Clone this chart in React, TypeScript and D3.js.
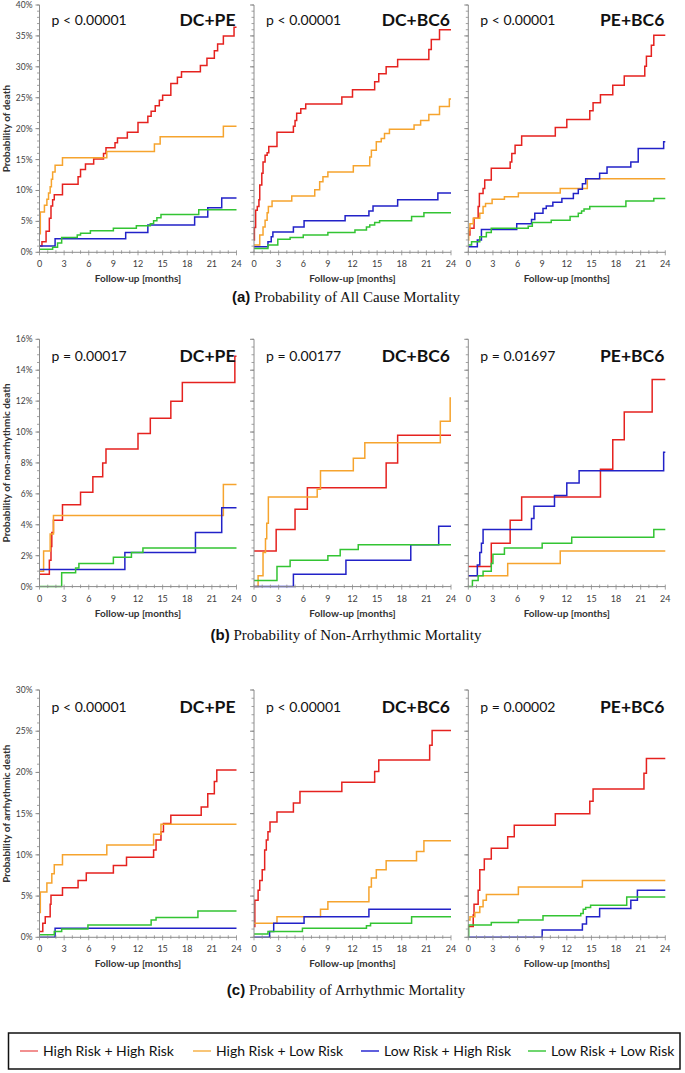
import React from "react";
import * as d3 from "d3";

type Pt = [number, number];

const monthTicks = [0, 3, 6, 9, 12, 15, 18, 21, 24];
const groupTitles = ["DC+PE", "DC+BC6", "PE+BC6"];
const seriesNames = ["High Risk + High Risk", "High Risk + Low Risk", "Low Risk + High Risk", "Low Risk + Low Risk"];
const seriesColors = ["#e5221f", "#f6a42e", "#2222c8", "#33c433"];
const legendColors = ["#ee6b6b", "#f6b24a", "#2a2ad2", "#3fc83f"];

const rowYTitles = ["Probability of death", "Probability of non-arrhythmic death", "Probability of arrhythmic death"];
const rowCaptionTags = ["(a)", "(b)", "(c)"];
const rowCaptions = ["Probability of All Cause Mortality", "Probability of Non-Arrhythmic Mortality", "Probability of Arrhythmic Mortality"];
const rowYMax = [40, 16, 30];
const rowYMajor = [5, 2, 5];
const rowYMinor = [1, 0.5, 1];

const pValuesA = ["p < 0.00001", "p < 0.00001", "p < 0.00001"];
const pValuesB = ["p = 0.00017", "p = 0.00177", "p = 0.01697"];
const pValuesC = ["p < 0.00001", "p < 0.00001", "p = 0.00002"];

// ---- (a) All cause mortality ----
const a1Red: Pt[] = [[0,1.0],[0.3,1.7],[0.8,3.4],[1.2,5.5],[1.4,7.5],[1.6,8.5],[1.8,9.3],[2.8,11.0],[4.7,12.2],[5.0,13.4],[5.6,14.3],[6.6,15.1],[7.8,16.0],[8.1,16.9],[9.2,17.7],[9.5,18.5],[10.7,19.4],[12.0,21.0],[13.2,22.0],[13.6,22.8],[14.1,23.7],[14.6,24.6],[15.0,25.4],[16.0,27.3],[16.8,28.3],[17.3,29.2],[19.6,30.2],[20.4,31.4],[21.3,32.6],[21.7,33.7],[22.4,35.0],[23.7,36.4]];
const a1Orange: Pt[] = [[0,3.0],[0.1,6.5],[0.6,7.6],[0.9,8.6],[1.1,9.6],[1.3,10.6],[1.45,11.8],[1.6,13.0],[1.9,14.1],[2.8,15.3],[8.2,16.3],[14.0,17.5],[14.7,18.7],[22.4,20.4]];
const a1Blue: Pt[] = [[0,1.0],[1.9,2.2],[10.5,3.2],[13.2,4.4],[18.9,5.7],[20.5,7.2],[22.2,8.8]];
const a1Green: Pt[] = [[0,0.5],[1.6,0.8],[2.2,1.5],[2.7,2.4],[4.6,2.8],[5.0,3.1],[6.2,3.5],[9.0,3.9],[11.8,4.3],[13.5,4.6],[13.9,5.1],[14.3,5.6],[14.8,6.1],[19.4,6.9]];

const a2Red: Pt[] = [[0,2.0],[0.05,4.0],[0.2,6.8],[0.4,7.4],[0.6,8.5],[0.7,10.9],[0.95,12.8],[1.1,14.6],[1.35,15.7],[1.6,16.1],[1.8,17.1],[2.8,19.4],[4.8,20.4],[5.0,21.3],[5.2,22.5],[5.7,23.2],[6.3,24.0],[10.7,25.1],[12.0,26.3],[14.7,27.6],[15.2,28.9],[16.1,30.0],[17.5,31.2],[21.3,32.8],[21.6,34.4],[22.6,36.0]];
const a2Orange: Pt[] = [[0,1.2],[0.7,2.8],[1.1,4.1],[1.35,5.2],[1.6,6.4],[1.75,7.4],[2.2,8.3],[4.6,9.1],[7.4,10.1],[8.0,11.4],[8.4,12.2],[9.0,13.0],[12.1,14.0],[14.1,15.4],[14.3,16.5],[14.9,17.9],[15.5,18.4],[15.9,19.2],[16.5,19.9],[19.5,20.6],[20.3,21.3],[21.3,22.3],[22.6,23.6],[23.8,24.8]];
const a2Blue: Pt[] = [[0,0.9],[1.7,1.7],[2.1,2.5],[2.3,3.3],[4.8,4.1],[6.1,5.1],[11.1,5.9],[14.0,6.7],[14.5,7.5],[17.5,8.5],[22.4,9.6]];
const a2Green: Pt[] = [[0,0.6],[1.7,1.2],[2.9,2.1],[4.4,2.4],[6.0,2.8],[9.0,3.2],[12.3,3.6],[13.7,4.1],[14.1,4.4],[14.7,4.8],[15.3,5.1],[19.2,5.8],[20.7,6.4]];

const a3Red: Pt[] = [[0,2.8],[0.2,3.9],[0.7,5.5],[1.2,7.4],[1.35,9.5],[1.8,10.3],[2.0,11.7],[2.8,13.6],[5.1,14.6],[5.3,16.0],[5.7,17.3],[6.5,18.8],[10.6,20.2],[12.0,21.5],[14.8,22.9],[15.2,24.2],[16.1,25.5],[17.6,27.0],[19.0,28.5],[21.5,30.1],[21.7,31.7],[22.3,33.5],[22.6,35.1]];
const a3Orange: Pt[] = [[0,2.0],[0.05,3.6],[0.2,4.6],[0.6,5.5],[1.4,6.3],[1.8,7.4],[2.1,7.9],[2.9,8.6],[4.4,9.0],[6.1,9.6],[11.2,10.3],[14.5,11.9]];
const a3Blue: Pt[] = [[0,0.9],[1.1,2.0],[1.6,3.7],[5.9,4.6],[7.7,5.3],[8.1,6.3],[9.1,7.1],[9.5,7.5],[10.3,8.1],[11.4,8.7],[12.8,9.5],[13.4,10.2],[13.9,11.1],[14.3,11.9],[16.0,12.8],[16.9,13.8],[19.8,14.6],[20.7,16.8],[23.8,17.9]];
const a3Green: Pt[] = [[0,1.2],[0.4,1.7],[1.4,2.5],[2.2,3.2],[2.8,3.9],[7.3,4.2],[7.8,4.8],[10.1,5.2],[12.4,5.8],[13.4,6.3],[13.8,6.7],[14.1,7.0],[14.8,7.4],[19.2,8.3],[22.6,8.7]];

// ---- (b) Non-arrhythmic mortality ----
const b1Red: Pt[] = [[0,0.8],[1.2,1.7],[1.4,2.6],[1.5,3.5],[1.7,4.3],[2.8,5.3],[5.0,6.1],[6.5,7.1],[7.7,8.0],[8.1,8.9],[12.0,9.9],[13.5,10.9],[16.0,12.0],[17.4,13.2],[23.8,14.9]];
const b1Orange: Pt[] = [[0,1.0],[0.5,2.3],[1.3,3.4],[1.7,4.6],[22.4,6.6]];
const b1Blue: Pt[] = [[0,1.1],[10.4,2.2],[19.0,3.5],[22.2,5.1]];
const b1Green: Pt[] = [[0,0],[2.7,0.9],[4.4,1.2],[4.8,1.5],[9.0,1.9],[11.2,2.2],[12.6,2.5]];

const b2Red: Pt[] = [[0,2.3],[2.7,3.7],[5.0,5.0],[6.5,6.4],[16.1,8.0],[17.5,9.8]];
const b2Orange: Pt[] = [[0,0],[0.5,0.7],[1.1,2.2],[1.4,3.1],[1.55,4.1],[1.75,5.8],[7.7,6.3],[8.1,7.5],[12.1,8.3],[13.5,9.3],[22.7,10.7],[23.9,12.2]];
const b2Blue: Pt[] = [[0,0],[4.8,0.8],[11.2,1.7],[19.1,2.7],[22.5,3.9]];
const b2Green: Pt[] = [[0,0.4],[2.8,1.3],[4.4,1.7],[9.0,2.0],[10.5,2.4],[12.7,2.7]];

const b3Red: Pt[] = [[0,1.3],[2.8,2.8],[5.1,4.3],[6.5,5.8],[16.1,7.6],[17.6,9.5],[19.0,11.3],[22.4,13.4]];
const b3Orange: Pt[] = [[0,0.7],[4.8,1.5],[11.2,2.3]];
const b3Blue: Pt[] = [[0,0.7],[1.1,1.4],[1.4,2.2],[1.6,2.8],[1.8,3.7],[7.7,4.4],[8.0,5.2],[10.5,5.9],[12.0,6.7],[13.5,7.5],[23.8,8.7]];
const b3Green: Pt[] = [[0,0],[0.5,0.4],[1.2,0.7],[1.8,1.0],[2.8,1.5],[3.0,2.1],[4.4,2.5],[9.0,2.8],[12.6,3.2],[22.6,3.7]];

// ---- (c) Arrhythmic mortality ----
const c1Red: Pt[] = [[0,0.7],[0.4,1.7],[0.7,2.5],[1.3,4.0],[1.4,5.1],[2.8,6.0],[4.7,6.9],[5.7,7.8],[9.0,8.7],[10.6,9.7],[13.9,10.6],[14.2,11.8],[14.8,12.8],[15.1,13.8],[16.0,14.8],[19.7,15.8],[20.5,17.4],[21.3,18.9],[21.6,20.3]];
const c1Orange: Pt[] = [[0,3.0],[0.1,5.5],[0.9,6.6],[1.5,7.7],[1.8,8.8],[2.8,10.0],[8.2,11.2],[13.9,12.5],[14.8,13.7]];
const c1Blue: Pt[] = [[0,0],[1.9,1.1]];
const c1Green: Pt[] = [[0,0.3],[1.8,0.7],[2.7,1.0],[5.9,1.5],[13.6,2.1],[14.2,2.4],[19.3,3.2]];

const c2Red: Pt[] = [[0,1.3],[0.1,4.5],[0.5,5.7],[0.7,6.9],[1.0,8.2],[1.3,10.6],[1.5,11.8],[1.7,12.8],[1.95,14.0],[2.8,15.2],[4.8,16.3],[5.6,17.7],[10.7,18.8],[14.7,20.1],[15.2,21.5],[21.4,23.3],[21.7,25.1]];
const c2Orange: Pt[] = [[0,1.7],[2.8,2.5],[8.1,3.4],[9.0,4.3],[14.0,6.1],[14.3,7.2],[14.9,8.2],[16.1,9.3],[19.8,10.4],[20.7,11.7]];
const c2Blue: Pt[] = [[0,0],[1.9,0.7],[2.4,1.7],[6.1,2.5],[14.0,3.4]];
const c2Green: Pt[] = [[0,0.4],[1.7,0.7],[5.9,1.1],[13.7,1.4],[14.2,1.7],[19.2,2.5]];

const c3Red: Pt[] = [[0,1.3],[0.6,2.7],[0.7,4.0],[1.2,5.7],[1.4,8.2],[1.95,9.5],[2.8,10.8],[4.8,12.2],[5.6,13.6],[10.6,15.0],[14.8,16.5],[15.2,18.0],[21.4,19.9],[21.7,21.7]];
const c3Orange: Pt[] = [[0,2.1],[0.2,2.5],[0.8,3.0],[1.4,3.7],[1.8,4.5],[2.2,5.2],[6.1,6.1],[13.9,6.9]];
const c3Blue: Pt[] = [[0,0],[9.0,0.9],[13.9,1.6],[14.4,2.5],[16.0,3.5],[19.8,4.5],[20.6,5.7]];
const c3Green: Pt[] = [[0,0],[0.05,1.5],[2.8,1.8],[6.1,2.1],[9.1,2.6],[13.7,2.9],[14.0,3.4],[14.3,3.6],[14.9,3.9],[19.3,4.9]];

const rowPValues = [pValuesA, pValuesB, pValuesC];
const rowData: Pt[][][][] = [
  [[a1Red, a1Orange, a1Blue, a1Green], [a2Red, a2Orange, a2Blue, a2Green], [a3Red, a3Orange, a3Blue, a3Green]],
  [[b1Red, b1Orange, b1Blue, b1Green], [b2Red, b2Orange, b2Blue, b2Green], [b3Red, b3Orange, b3Blue, b3Green]],
  [[c1Red, c1Orange, c1Blue, c1Green], [c2Red, c2Orange, c2Blue, c2Green], [c3Red, c3Orange, c3Blue, c3Green]],
];

// layout
const W = 685;
const H = 1073;
const panelLefts = [39.5, 254, 468.3];
const panelWidth = 197;
const rowTops = [5, 339.3, 690];
const rowHeight = 247.3;
const captionY = [302, 640, 995];

const SANS = "Lato, 'Open Sans', 'DejaVu Sans', sans-serif";
const SERIF = "'Liberation Serif', 'Times New Roman', serif";
const AXIS = "#8c8c8c";

function Panel({ row, col }: { row: number; col: number }) {
  const x0 = panelLefts[col];
  const top = rowTops[row];
  const x = d3.scaleLinear().domain([0, 24]).range([x0, x0 + panelWidth]);
  const y = d3.scaleLinear().domain([0, rowYMax[row]]).range([top + rowHeight, top]);
  const line = d3.line<Pt>().x((d) => x(d[0])).y((d) => y(d[1])).curve(d3.curveStepAfter);
  const majors = d3.range(0, rowYMax[row] + 1e-9, rowYMajor[row]);
  const minors = d3.range(0, rowYMax[row] + 1e-9, rowYMinor[row]);
  const monthMinor = d3.range(0, 25, 1);
  const yBase = y(0);
  const titleOffset = row === 0 ? 20 : 22;
  return (
    <g>
      {rowData[row][col].map((s, i) => {
        const last = s[s.length - 1];
        const pts: Pt[] = [...s, [24, last[1]]];
        return <path key={i} d={line(pts) || ""} fill="none" stroke={seriesColors[i]} strokeWidth={1.5} />;
      })}
      <line x1={x0} x2={x0} y1={y(rowYMax[row])} y2={yBase} stroke={AXIS} strokeWidth={1} />
      {minors.map((v, i) => (
        <line key={"mi" + i} x1={x0 - 2.5} x2={x0} y1={y(v)} y2={y(v)} stroke={AXIS} strokeWidth={0.8} />
      ))}
      {majors.map((v, i) => (
        <line key={"ma" + i} x1={x0 - 4} x2={x0} y1={y(v)} y2={y(v)} stroke={AXIS} strokeWidth={1} />
      ))}
      {col === 0 &&
        majors.map((v, i) => (
          <text key={"yl" + i} x={x0 - 7} y={y(v) + 3} fontSize={8.5} fontFamily={SANS} fill="#404040" textAnchor="end">
            {v + "%"}
          </text>
        ))}
      <line x1={x0} x2={x0 + panelWidth} y1={yBase} y2={yBase} stroke={AXIS} strokeWidth={1} />
      {monthMinor.map((m) => (
        <line key={"xm" + m} x1={x(m)} x2={x(m)} y1={yBase - 2} y2={yBase + (m % 3 === 0 ? 3 : 1.5)} stroke={AXIS} strokeWidth={0.8} />
      ))}
      {monthTicks.map((m) => (
        <text key={"xl" + m} x={x(m)} y={yBase + 15} fontSize={9} fontFamily={SANS} fill="#404040" textAnchor="middle">
          {m}
        </text>
      ))}
      <text x={x0 + panelWidth / 2} y={yBase + 30} fontSize={10} fontWeight="bold" fontFamily={SANS} fill="#333" textAnchor="middle">
        Follow-up [months]
      </text>
      <text x={x0 + 12} y={top + titleOffset} fontSize={14} fontFamily={SANS} fill="#111">
        {rowPValues[row][col]}
      </text>
      <text x={x0 + panelWidth - 1} y={top + titleOffset + 1} fontSize={17.5} fontWeight="bold" fontFamily={SANS} fill="#111" textAnchor="end">
        {groupTitles[col]}
      </text>
    </g>
  );
}

export default function App() {
  return (
    <svg width={W} height={H} style={{ display: "block", position: "absolute", left: 0, top: 0, background: "#fff" }}>
      <rect x={0} y={0} width={W} height={H} fill="#fff" />
      {[0, 1, 2].map((row) => (
        <g key={row}>
          {[0, 1, 2].map((col) => (
            <Panel key={col} row={row} col={col} />
          ))}
          <text
            transform={`translate(10,${rowTops[row] + rowHeight / 2}) rotate(-90)`}
            fontSize={10}
            fontWeight="bold"
            fontFamily={SANS}
            fill="#333"
            textAnchor="middle"
          >
            {rowYTitles[row]}
          </text>
          <text x={346} y={captionY[row]} textAnchor="middle" fontSize={15} fill="#111">
            <tspan fontFamily="'Liberation Sans', Arial, sans-serif" fontWeight="bold">{rowCaptionTags[row]}</tspan>
            <tspan fontFamily={SERIF}>{" " + rowCaptions[row]}</tspan>
          </text>
        </g>
      ))}
      <rect x={8.5} y={1033} width={671.5} height={36} fill="#fff" stroke="#111" strokeWidth={1.5} />
      {seriesNames.map((name, i) => {
        const lx = [20, 193, 361, 528][i];
        return (
          <g key={name}>
            <line x1={lx} x2={lx + 18} y1={1051} y2={1051} stroke={legendColors[i]} strokeWidth={1.5} />
            <text x={lx + 23} y={1056} fontSize={14} fontFamily={SANS} fill="#111">
              {name}
            </text>
          </g>
        );
      })}
    </svg>
  );
}
